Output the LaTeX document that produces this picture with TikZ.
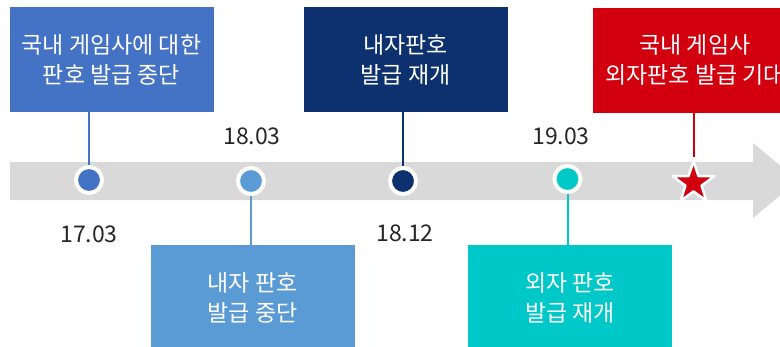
\documentclass[tikz,border=0pt]{standalone}
\usepackage{fontspec}
\setmainfont{Noto Sans CJK KR}
\usetikzlibrary{positioning, shapes.geometric}
\tikzset{
	event/.style = {fill=#1, text=white, minimum width=204pt, minimum height=105pt, inner sep=0pt, align=center, font=\fontsize{23}{30}\selectfont},
	dot/.style = {circle, fill=#1, draw=white, line width=4pt, minimum size=26pt, inner sep=0pt},
	link/.style = {#1, line width=2pt},
	date/.style = {text=xtext, inner sep=0pt, font=\fontsize{23}{26}\selectfont},
}
\definecolor{xband}{HTML}{D9D9D9}
\definecolor{xtext}{HTML}{262626}
\definecolor{xblue}{HTML}{4472C4}
\definecolor{xsky}{HTML}{5B9BD5}
\definecolor{xnavy}{HTML}{0C316E}
\definecolor{xteal}{HTML}{00C8C8}
\definecolor{xred}{HTML}{D2000F}

\begin{document}
\begin{tikzpicture}[x=1pt, y=-1pt]
			\useasboundingbox (0,0) rectangle (780,346);
			% timeline band
			\fill[xband] (10,162) -- (753,162) -- (753,143) -- (798,180.5) -- (753,218) -- (753,200) -- (10,200) -- cycle;
			% events
			\node[event=xblue] (e1) at (111.5,59.5) {국내 게임사에 대한\\판호 발급 중단};
			\node[event=xsky]  (e2) at (252.5,297.5) {내자 판호\\발급 중단};
			\node[event=xnavy] (e3) at (405.5,59.5) {내자판호\\발급 재개};
			\node[event=xteal] (e4) at (570,297.5) {외자 판호\\발급 재개};
			\node[event=xred]  (e5) at (695,60) {국내 게임사\\외자판호 발급 기대};
			% points on the band
			\node[dot=xblue] (d1) at (89,180) {};
			\node[dot=xsky]  (d2) at (251,181) {};
			\node[dot=xnavy] (d3) at (403,181) {};
			\node[dot=xteal] (d4) at (567.5,179) {};
			\node[star, star points=5, star point ratio=2.6, minimum size=44pt, inner sep=0pt, fill=xred, draw=white, line width=2.5pt, line join=round] (s5) at (693.5,183) {};
			\draw[link=xblue] (e1.south -| d1) -- (d1);
			\draw[link=xsky]  (e2.north -| d2) -- (d2);
			\draw[link=xnavy] (e3.south -| d3) -- (d3);
			\draw[link=xteal] (e4.north -| d4) -- (d4);
			\draw[link=xred]  (e5.south -| s5) -- (s5.north);
			% dates
			\node[date] (t1) at (89,234) {17.03};
			\node[date] (t2) at (252,136) {18.03};
			\node[date] (t3) at (405,233) {18.12};
			\node[date] (t4) at (561,136) {19.03};
		\end{tikzpicture}
\end{document}
